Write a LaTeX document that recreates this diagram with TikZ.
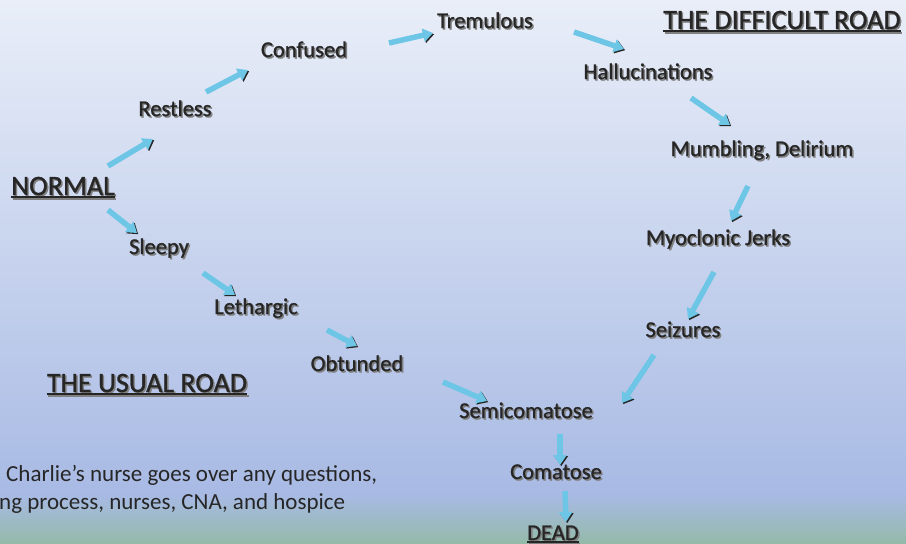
\documentclass[tikz,border=0pt]{standalone}
\usepackage{fontspec}
\setmainfont{Carlito}
\newfontfamily\stagefont{Carlito}[FakeBold=1.1]
\usetikzlibrary{arrows.meta}
\definecolor{BgTop}{HTML}{E9EEF8}
\definecolor{BgLow}{HTML}{A8BAE4}
\definecolor{BgGreen}{HTML}{93BAA8}
\definecolor{FlowBlue}{HTML}{6DC6E6}
\definecolor{InkDark}{HTML}{262626}
\newcommand{\shadowed}[1]{\rlap{\hspace{1.5pt}\raisebox{-1.5pt}{\color{black!50}#1}}#1}
\newcommand{\roadline}[1]{\setbox0\hbox{#1}\rlap{\rule[-3pt]{\wd0}{1.6pt}}\box0}
\tikzset{
  stage/.style={
    font=\stagefont\fontsize{22.5pt}{26pt}\selectfont,
    text=InkDark,
    inner sep=1pt,
    anchor=base
  },
  road/.style={
    stage,
    font=\stagefont\fontsize{28pt}{32pt}\selectfont
  },
  note/.style={
    font=\fontsize{23pt}{28pt}\selectfont,
    text=InkDark,
    inner sep=0pt,
    align=left,
    anchor=base west
  },
  flow/.style={
    line width=5.5pt,
    draw=FlowBlue,
    -{Triangle[length=10pt,width=13pt]},
    preaction={draw=black!85, transform canvas={shift={(1.2pt,-1.2pt)}}}
  }
}

\begin{document}
\begin{tikzpicture}[x=1pt, y=-1pt]
        \useasboundingbox (0,0) rectangle (906,544);
        \clip (0,0) rectangle (906,544);
        \shade [top color=BgTop, bottom color=BgLow] (0,0) rectangle (906,495);
        \shade [top color=BgLow, bottom color=BgGreen] (0,495) rectangle (906,544);

        \node (normal) [road] at (63,195) {\shadowed{\roadline{NORMAL}}};
        \node (difficult) [road] at (782,29) {\shadowed{\roadline{THE DIFFICULT ROAD}}};
        \node (usual) [road] at (147,392) {\shadowed{\roadline{THE USUAL ROAD}}};

        \node (restless) [stage] at (175,116) {\shadowed{Restless}};
        \node (confused) [stage] at (304,57) {\shadowed{Confused}};
        \node (tremulous) [stage] at (485,28) {\shadowed{Tremulous}};
        \node (hallu) [stage] at (648,79) {\shadowed{Hallucinations}};
        \node (mumbling) [stage] at (762,156) {\shadowed{Mumbling, Delirium}};
        \node (myoclonic) [stage] at (718,245) {\shadowed{Myoclonic Jerks}};
        \node (seizures) [stage] at (683,337) {\shadowed{Seizures}};

        \node (sleepy) [stage] at (159,254) {\shadowed{Sleepy}};
        \node (lethargic) [stage] at (256,314) {\shadowed{Lethargic}};
        \node (obtunded) [stage] at (357,371) {\shadowed{Obtunded}};
        \node (semicoma) [stage] at (526,418) {\shadowed{Semicomatose}};
        \node (comatose) [stage] at (556,479) {\shadowed{Comatose}};
        \node (dead) [stage] at (553,540) {\shadowed{\roadline{DEAD}}};

        \node (note) [note] at (-1,509) {\hspace{7pt}Charlie’s nurse goes over any questions,\\ng process, nurses, CNA, and hospice};

        \draw [flow] ([shift={(45,-29)}]normal.base) -- ([shift={(-22,23)}]restless.base);
        \draw [flow] ([shift={(31,-24)}]restless.base) -- ([shift={(-56,13)}]confused.base);
        \draw [flow] ([shift={(85,-14)}]confused.base) -- ([shift={(-52,5)}]tremulous.base);
        \draw [flow] ([shift={(89,4)}]tremulous.base) -- ([shift={(-24,-30)}]hallu.base);
        \draw [flow] ([shift={(43,19)}]hallu.base) -- ([shift={(-32,-31)}]mumbling.base);
        \draw [flow] ([shift={(-14,30)}]mumbling.base) -- ([shift={(13,-24)}]myoclonic.base);
        \draw [flow] ([shift={(-4,27)}]myoclonic.base) -- ([shift={(5,-18)}]seizures.base);
        \draw [flow] ([shift={(-29,18)}]seizures.base) -- ([shift={(96,-15)}]semicoma.base);

        \draw [flow] ([shift={(45,15)}]normal.base) -- ([shift={(-22,-21)}]sleepy.base);
        \draw [flow] ([shift={(44,19)}]sleepy.base) -- ([shift={(-21,-19)}]lethargic.base);
        \draw [flow] ([shift={(71,16)}]lethargic.base) -- ([shift={(0,-25)}]obtunded.base);
        \draw [flow] ([shift={(86,11)}]obtunded.base) -- ([shift={(-39,-17)}]semicoma.base);
        \draw [flow] ([shift={(34,16)}]semicoma.base) -- ([shift={(4,-14)}]comatose.base);
        \draw [flow] ([shift={(9,12)}]comatose.base) -- ([shift={(13,-18)}]dead.base);
\end{tikzpicture}
\end{document}
